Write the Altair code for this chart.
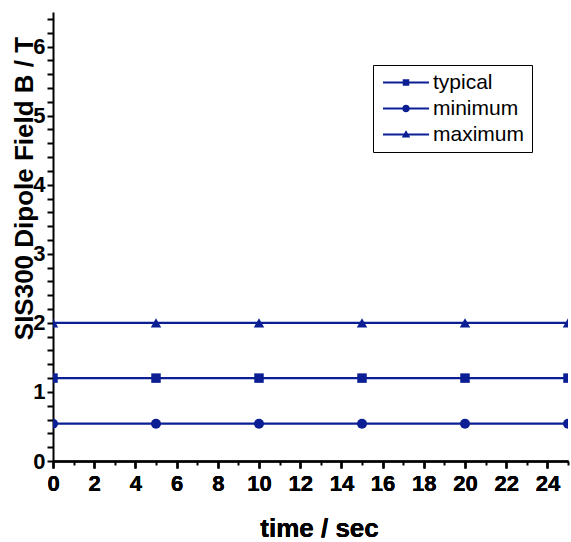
import altair as alt
import pandas as pd

# ---- data ----
times = [0, 5, 10, 15, 20, 25]
typical = [1.2, 1.2, 1.2, 1.2, 1.2, 1.2]
minimum = [0.54, 0.54, 0.54, 0.54, 0.54, 0.54]
maximum = [2.0, 2.0, 2.0, 2.0, 2.0, 2.0]
series_names = ["typical", "minimum", "maximum"]

rows = []
for name, vals in zip(series_names, [typical, minimum, maximum]):
    for t, b in zip(times, vals):
        rows.append({"series": name, "t": t, "B": b})
df = pd.DataFrame(rows)

NAVY = "#0b1e93"
FONT = "Liberation Sans"

x_major = list(range(0, 25, 2))
x_minor = list(range(1, 26, 2))
y_ticks = [round(i * 0.2, 1) for i in range(0, 33)]

x_scale = alt.Scale(domain=[0, 25], nice=False, zero=False)
y_scale = alt.Scale(domain=[0, 6.5], nice=False)

x_enc = alt.X(
    "t:Q",
    scale=x_scale,
    axis=alt.Axis(
        orient="bottom",
        values=x_major,
        tickSize=7,
        title="time / sec",
        titleX=266,
        titleY=75,
        titleBaseline="alphabetic",
        labelPadding=5,
    ),
)
x_enc_minor = alt.X(
    "t:Q",
    scale=x_scale,
    axis=alt.Axis(
        orient="bottom",
        values=x_minor,
        tickSize=4,
        labels=False,
        domain=False,
        title=None,
    ),
)
y_enc = alt.Y(
    "B:Q",
    scale=y_scale,
    axis=alt.Axis(
        values=y_ticks,
        labelExpr="(datum.value % 1 == 0) ? format(datum.value, 'd') : ''",
        title="SIS300 Dipole Field B / T",
        titleX=-21,
        titleY=176,
        titleAngle=-90,
        titleAlign="center",
        titleBaseline="alphabetic",
        labelPadding=2,
    ),
)

line = alt.Chart(df).mark_line(color=NAVY, strokeWidth=2.2, clip=True).encode(
    x=x_enc, y=y_enc, detail="series:N"
)

points = alt.Chart(df).mark_point(
    filled=True, color=NAVY, opacity=1, clip=True
).encode(
    x=x_enc,
    y=y_enc,
    shape=alt.Shape(
        "series:N",
        scale=alt.Scale(domain=series_names, range=["square", "circle", "triangle-up"]),
        legend=None,
    ),
    size=alt.Size(
        "series:N",
        scale=alt.Scale(domain=series_names, range=[90, 110, 160]),
        legend=None,
    ),
)

minor_ticks = alt.Chart(df).mark_point(opacity=0).encode(x=x_enc_minor)

# legend glyphs: a short line with the series marker on it
legend_paths = [
    "M-4.6,-0.2 L4.6,-0.2 L4.6,0.2 L-4.6,0.2 Z M-0.65,-0.65 L0.65,-0.65 L0.65,0.65 L-0.65,0.65 Z",
    "M-4.6,-0.2 L-0.6,-0.2 L-0.6,0.2 L-4.6,0.2 Z M0.6,-0.2 L4.6,-0.2 L4.6,0.2 L0.6,0.2 Z "
    "M-0.75,0 A0.75,0.75 0 1,1 0.75,0 A0.75,0.75 0 1,1 -0.75,0 Z",
    "M-4.6,-0.2 L4.6,-0.2 L4.6,0.2 L-4.6,0.2 Z M0,-0.85 L0.85,0.6 L-0.85,0.6 Z",
]

legend_layer = alt.Chart(df).mark_point(
    filled=True, color=NAVY, opacity=0
).encode(
    x=x_enc,
    y=y_enc,
    shape=alt.Shape(
        "series:N",
        scale=alt.Scale(domain=series_names, range=legend_paths),
        legend=alt.Legend(
            title=None,
            orient="none",
            legendX=320,
            legendY=53,
            symbolSize=100,
            symbolOpacity=1,
            symbolFillColor=NAVY,
            symbolStrokeWidth=0,
            symbolOffset=15.5,
            labelOffset=16.5,
            labelFont=FONT,
            labelFontSize=21,
            labelColor="black",
            padding=7,
            rowPadding=4,
            strokeColor="black",
            fillColor="white",
        ),
    ),
)

chart = (
    alt.layer(line, points, legend_layer, minor_ticks)
    .resolve_scale(shape="independent")
    .resolve_axis(x="independent")
    .properties(
        width=515,
        height=449,
        autosize=alt.AutoSizeParams(type="none"),
        padding={"left": 53, "top": 12, "right": 3, "bottom": 81},
        background="white",
    )
    .configure_view(stroke=None)
    .configure_axis(
        grid=False,
        domainColor="black",
        domainWidth=2,
        tickColor="black",
        tickWidth=2,
        tickSize=6,
        labelFont=FONT,
        labelFontWeight="bold",
        labelFontSize=22,
        labelColor="black",
        labelOverlap=False,
        labelFlush=False,
        titleFont=FONT,
        titleFontWeight="bold",
        titleFontSize=26,
        titleColor="black",
    )
)

chart.save("out.html", embed_options={"renderer": "svg", "actions": False})
